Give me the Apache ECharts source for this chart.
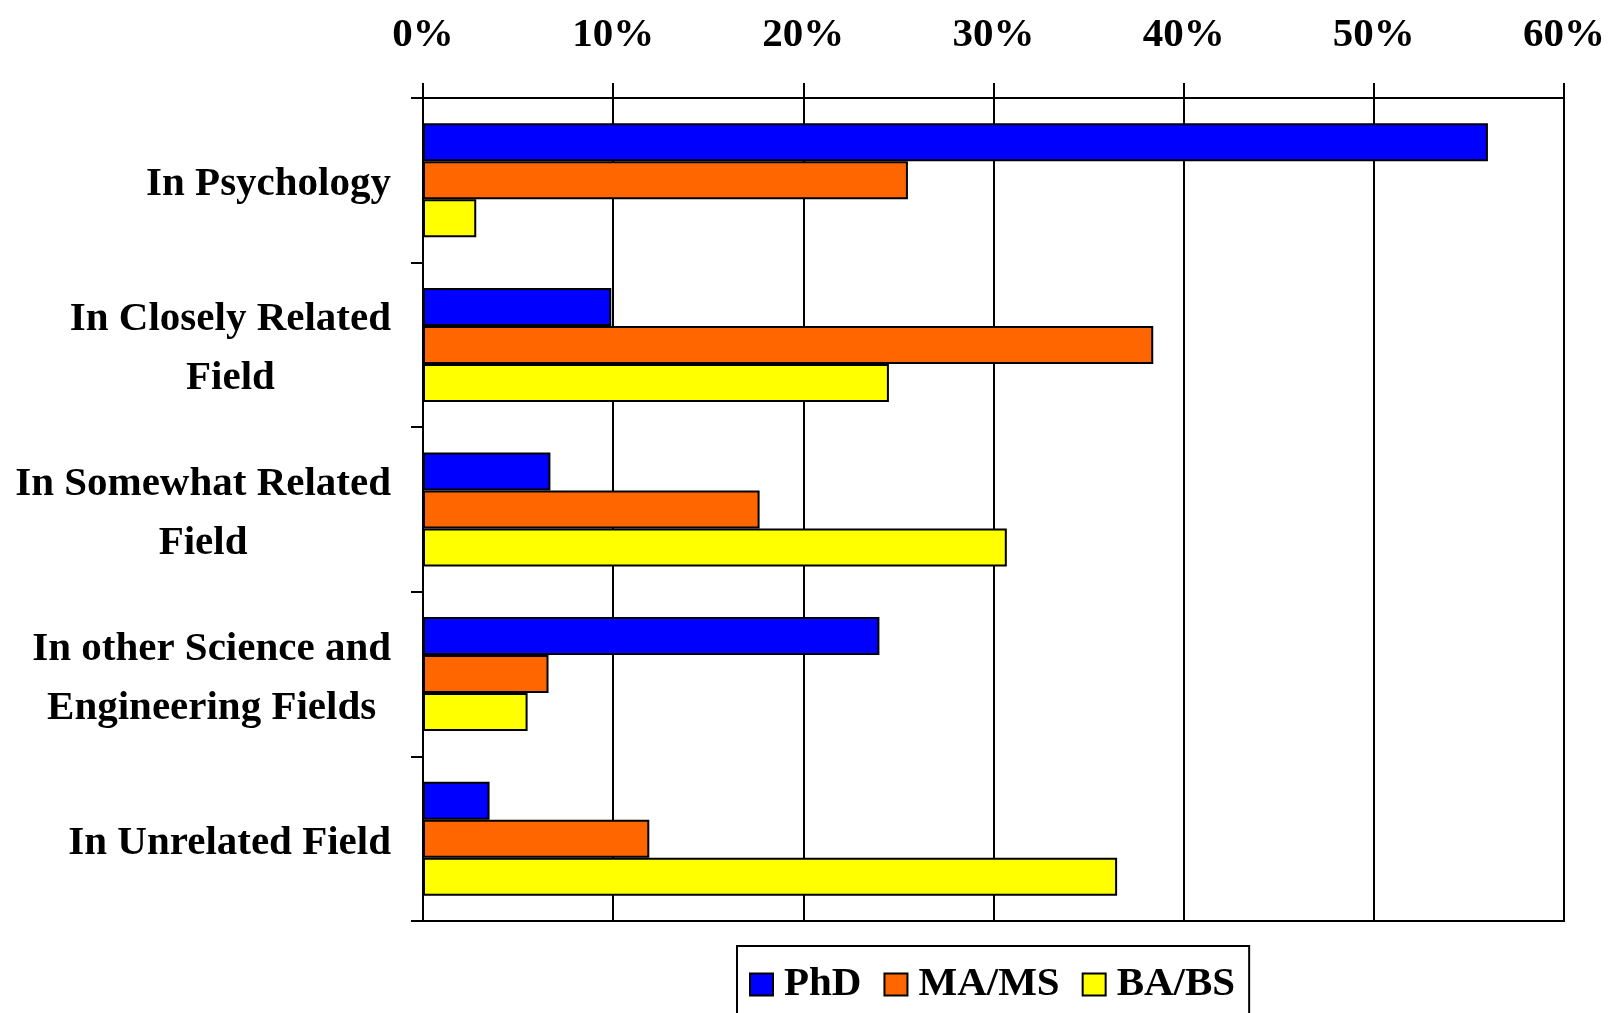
<!DOCTYPE html>
<html>
<head>
<meta charset="utf-8">
<script src="https://cdn.jsdelivr.net/npm/echarts@6/dist/echarts.min.js"></script>
<style>
  html, body { margin: 0; padding: 0; background: #fff; }
  #chart { width: 1615px; height: 1013px; }
</style>
</head>
<body>
<div id="chart"></div>
<script>
// categories, top to bottom
const categories = [
  "In Psychology",
  "In Closely Related\nField",
  "In Somewhat Related\nField",
  "In other Science and\nEngineering Fields",
  "In Unrelated Field",
];
const seriesNames = ["PhD", "MA/MS", "BA/BS"];
// percent values
const phd = [56.0, 9.9, 6.7, 24.0, 3.5];
const maMs = [25.5, 38.4, 17.7, 6.6, 11.9];
const baBs = [2.8, 24.5, 30.7, 5.5, 36.5];
const colors = ["#0000FF", "#FF6600", "#FFFF00"];

const font = "'Liberation Serif', 'Times New Roman', serif";

var myChart = echarts.init(document.getElementById("chart"));

const makeSeries = (name, data, color) => ({
  name: name,
  type: "bar",
  data: data,
  barWidth: 38,
  barGap: "0%",
  itemStyle: { color: color, borderColor: "#000", borderWidth: 2 },
  z: 3,
});

var option = {
  backgroundColor: "#fff",
  animation: false,
  grid: {
    left: 423,
    right: 51,
    top: 98,
    bottom: 92,
    show: true,
    borderColor: "#000",
    borderWidth: 2,
    backgroundColor: "transparent",
  },
  legend: {
    data: seriesNames,
    left: 737,
    top: 946,
    orient: "horizontal",
    padding: [18, 14, 40, 12],
    borderColor: "#000",
    borderWidth: 2,
    itemWidth: 23,
    itemHeight: 22,
    itemGap: 22,
    icon: "rect",
    textStyle: {
      fontFamily: font,
      fontWeight: "bold",
      fontSize: 41,
      color: "#000",
      padding: [0, 0, 0, 6],
    },
  },
  xAxis: {
    type: "value",
    position: "top",
    min: 0,
    max: 60,
    interval: 10,
    axisLine: { show: true, lineStyle: { color: "#000", width: 2 } },
    axisTick: { show: true, length: 15, lineStyle: { color: "#000", width: 2 } },
    splitLine: { show: true, lineStyle: { color: "#000", width: 2 } },
    axisLabel: {
      formatter: "{value}%",
      margin: 42,
      fontFamily: font,
      fontWeight: "bold",
      fontSize: 41,
      color: "#000",
    },
  },
  yAxis: {
    type: "category",
    data: categories,
    inverse: true,
    axisLine: { show: true, lineStyle: { color: "#000", width: 2 } },
    axisTick: { show: true, length: 12, lineStyle: { color: "#000", width: 2 } },
    splitLine: { show: false },
    axisLabel: {
      margin: 32,
      padding: [9, 0, 0, 0],
      color: "#000",
      formatter: (v) => v.split("\n").map((s) => "{c|" + s + "}").join("\n"),
      rich: {
        c: {
          align: "center",
          fontFamily: font,
          fontWeight: "bold",
          fontSize: 41,
          lineHeight: 59,
          color: "#000",
        },
      },
    },
  },
  series: [
    makeSeries(seriesNames[0], phd, colors[0]),
    makeSeries(seriesNames[1], maMs, colors[1]),
    makeSeries(seriesNames[2], baBs, colors[2]),
  ],
};

option && myChart.setOption(option);
</script>
</body>
</html>
